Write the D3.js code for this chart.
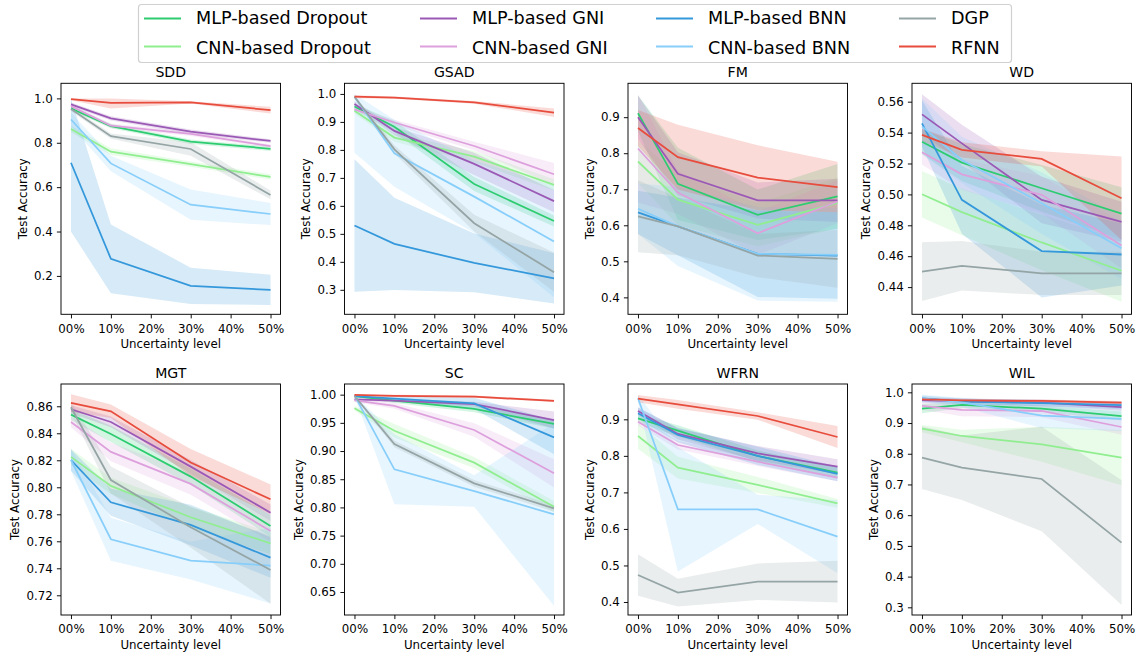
<!DOCTYPE html>
<html>
<head>
<meta charset="utf-8">
<script src="https://cdn.jsdelivr.net/npm/d3@7"></script>
<style>
  body { margin: 0; background: #fff; }
  svg { display: block; font-family: "DejaVu Sans", sans-serif; }
</style>
</head>
<body>
<script>
// series, in legend order (column by column)
const seriesNames = ['MLP-based Dropout', 'CNN-based Dropout', 'MLP-based GNI', 'CNN-based GNI',
    'MLP-based BNN', 'CNN-based BNN', 'DGP', 'RFNN'];
const seriesColors = ['#2ecc71', '#90ee90', '#9b59b6', '#dda0dd', '#3498db', '#87cefa', '#95a5a6', '#e74c3c'];

const levels = [0, 10, 30, 50];          // uncertainty level (%)
const xTicks = [0, 10, 20, 30, 40, 50];
const datasets = ['SDD', 'GSAD', 'FM', 'WD', 'MGT', 'SC', 'WFRN', 'WIL'];

// mean test accuracy / spread, one row per series
const sddMean = [
    [0.955, 0.875, 0.805, 0.773], [0.862, 0.760, 0.704, 0.646], [0.973, 0.910, 0.850, 0.808], [0.965, 0.877, 0.840, 0.785],
    [0.710, 0.277, 0.155, 0.137], [0.905, 0.707, 0.521, 0.479], [0.952, 0.830, 0.772, 0.565], [0.997, 0.980, 0.982, 0.947]];
const sddSd = [
    [0.010, 0.010, 0.010, 0.010], [0.015, 0.015, 0.012, 0.012], [0.008, 0.010, 0.010, 0.008], [0.010, 0.010, 0.010, 0.008],
    [0.310, 0.155, 0.082, 0.068], [0.030, 0.035, 0.068, 0.050], [0.010, 0.012, 0.030, 0.020], [0.005, 0.025, 0.005, 0.015]];

const gsadMean = [
    [0.955, 0.883, 0.678, 0.546], [0.940, 0.844, 0.776, 0.675], [0.964, 0.868, 0.750, 0.617], [0.945, 0.898, 0.814, 0.713],
    [0.530, 0.464, 0.396, 0.341], [0.990, 0.788, 0.633, 0.473], [0.990, 0.802, 0.538, 0.363], [0.990, 0.987, 0.970, 0.933]];
const gsadSd = [
    [0.010, 0.020, 0.025, 0.020], [0.010, 0.015, 0.020, 0.020], [0.010, 0.015, 0.040, 0.040], [0.010, 0.010, 0.015, 0.040],
    [0.237, 0.165, 0.105, 0.090], [0.200, 0.120, 0.130, 0.200], [0.005, 0.015, 0.030, 0.070], [0.005, 0.004, 0.005, 0.015]];

const fmMean = [
    [0.911, 0.715, 0.629, 0.680], [0.777, 0.671, 0.601, 0.662], [0.900, 0.743, 0.669, 0.669], [0.813, 0.691, 0.578, 0.666],
    [0.636, 0.597, 0.521, 0.516], [0.646, 0.597, 0.521, 0.518], [0.625, 0.597, 0.516, 0.507], [0.870, 0.789, 0.732, 0.706]];
const fmSd = [
    [0.05, 0.10, 0.07, 0.09], [0.06, 0.07, 0.06, 0.07], [0.06, 0.06, 0.05, 0.06], [0.15, 0.06, 0.06, 0.06],
    [0.06, 0.08, 0.12, 0.12], [0.07, 0.11, 0.13, 0.13], [0.10, 0.08, 0.06, 0.08], [0.05, 0.09, 0.09, 0.07]];

const wdMean = [
    [0.5341, 0.5206, 0.5040, 0.4876], [0.5001, 0.4885, 0.4689, 0.4506], [0.5518, 0.5330, 0.4964, 0.4822], [0.5273, 0.5130, 0.4997, 0.4670],
    [0.5460, 0.4965, 0.4633, 0.4611], [0.5440, 0.5223, 0.4943, 0.4652], [0.4500, 0.4538, 0.4489, 0.4489], [0.5385, 0.5288, 0.5230, 0.4975]];
const wdSd = [
    [0.008, 0.012, 0.015, 0.017], [0.015, 0.015, 0.018, 0.020], [0.013, 0.012, 0.015, 0.013], [0.008, 0.010, 0.012, 0.015],
    [0.015, 0.022, 0.030, 0.020], [0.018, 0.015, 0.020, 0.020], [0.019, 0.016, 0.014, 0.014], [0.004, 0.005, 0.005, 0.027]];

const mgtMean = [
    [0.8538, 0.8395, 0.8079, 0.7714], [0.8225, 0.8010, 0.7778, 0.7585], [0.8578, 0.8484, 0.8153, 0.7812], [0.8484, 0.8262, 0.8025, 0.7677],
    [0.8202, 0.7889, 0.7721, 0.7479], [0.8202, 0.7615, 0.7457, 0.7420], [0.8593, 0.8054, 0.7704, 0.7388], [0.8625, 0.8563, 0.8183, 0.7911]];
const mgtSd = [
    [0.004, 0.006, 0.006, 0.008], [0.006, 0.006, 0.008, 0.008], [0.003, 0.004, 0.005, 0.006], [0.004, 0.007, 0.008, 0.008],
    [0.008, 0.010, 0.015, 0.015], [0.008, 0.016, 0.014, 0.028], [0.004, 0.010, 0.015, 0.025], [0.0065, 0.005, 0.010, 0.011]];

const scMean = [
    [0.9976, 0.9894, 0.9746, 0.9480], [0.9758, 0.9360, 0.8794, 0.8013], [0.9917, 0.9894, 0.9834, 0.9550], [0.9900, 0.9800, 0.9373, 0.8605],
    [0.9976, 0.9930, 0.9846, 0.9243], [0.9988, 0.8676, 0.8290, 0.7877], [0.9976, 0.9125, 0.8427, 0.7984], [0.9994, 0.9980, 0.9965, 0.9888]];
const scSd = [
    [0.002, 0.004, 0.006, 0.008], [0.004, 0.012, 0.010, 0.010], [0.002, 0.003, 0.004, 0.015], [0.003, 0.005, 0.012, 0.025],
    [0.002, 0.004, 0.010, 0.030], [0.002, 0.062, 0.028, 0.162], [0.002, 0.006, 0.006, 0.006], [0.001, 0.002, 0.002, 0.002]];

const wfrnMean = [
    [0.9027, 0.8690, 0.7996, 0.7540], [0.8544, 0.7677, 0.7203, 0.6701], [0.9228, 0.8599, 0.8069, 0.7704], [0.8936, 0.8297, 0.7841, 0.7403],
    [0.9164, 0.8571, 0.8000, 0.7504], [0.9575, 0.6536, 0.6536, 0.5788], [0.4739, 0.4255, 0.4556, 0.4556], [0.9566, 0.9411, 0.9091, 0.8516]];
const wfrnSd = [
    [0.012, 0.015, 0.015, 0.015], [0.035, 0.030, 0.022, 0.012], [0.010, 0.015, 0.020, 0.020], [0.010, 0.012, 0.012, 0.010],
    [0.015, 0.020, 0.025, 0.020], [0.010, 0.170, 0.040, 0.100], [0.057, 0.038, 0.050, 0.057], [0.010, 0.012, 0.010, 0.030]];

const wilMean = [
    [0.9468, 0.9588, 0.9468, 0.9229], [0.8817, 0.8578, 0.8307, 0.7873], [0.9750, 0.9707, 0.9664, 0.9522], [0.9555, 0.9425, 0.9392, 0.8871],
    [0.9800, 0.9700, 0.9650, 0.9580], [0.9800, 0.9674, 0.9240, 0.9132], [0.7873, 0.7547, 0.7178, 0.5105], [0.9772, 0.9740, 0.9718, 0.9664]];
const wilSd = [
    [0.015, 0.010, 0.010, 0.015], [0.012, 0.020, 0.057, 0.090], [0.008, 0.008, 0.010, 0.012], [0.012, 0.020, 0.020, 0.025],
    [0.010, 0.010, 0.010, 0.012], [0.012, 0.015, 0.040, 0.040], [0.102, 0.105, 0.170, 0.203], [0.005, 0.005, 0.005, 0.005]];

// y axis ranges and tick labels per dataset
const yDomains = [[0.027, 1.068], [0.2125, 1.038], [0.353, 0.994], [0.4224, 0.5719],
    [0.7054, 0.8765], [0.6092, 1.0189], [0.3644, 0.9967], [0.275, 1.0271]];
const yTicks = [
    [0.2, 0.4, 0.6, 0.8, 1.0],
    [0.3, 0.4, 0.5, 0.6, 0.7, 0.8, 0.9, 1.0],
    [0.4, 0.5, 0.6, 0.7, 0.8, 0.9],
    [0.44, 0.46, 0.48, 0.50, 0.52, 0.54, 0.56],
    [0.72, 0.74, 0.76, 0.78, 0.80, 0.82, 0.84, 0.86],
    [0.65, 0.70, 0.75, 0.80, 0.85, 0.90, 0.95, 1.00],
    [0.4, 0.5, 0.6, 0.7, 0.8, 0.9],
    [0.3, 0.4, 0.5, 0.6, 0.7, 0.8, 0.9, 1.0]];
const yFormats = ['.1f', '.1f', '.1f', '.2f', '.2f', '.2f', '.1f', '.1f'];

const means = [sddMean, gsadMean, fmMean, wdMean, mgtMean, scMean, wfrnMean, wilMean];
const sds = [sddSd, gsadSd, fmSd, wdSd, mgtSd, scSd, wfrnSd, wilSd];

const WIDTH = 1138;
const HEIGHT = 656;
const LEFTS = [61, 344.5, 628, 912];
const TOPS = [83.3, 384];
const PW = 219.5;
const PH = 231;

const svg = d3.select('body').append('svg')
    .attr('width', WIDTH)
    .attr('height', HEIGHT);

datasets.forEach((name, i) => {
    const col = i % 4;
    const row = Math.floor(i / 4);
    const g = svg.append('g').attr('transform', `translate(${LEFTS[col]},${TOPS[row]})`);

    const x = d3.scaleLinear().domain([-2.5, 52.5]).range([0, PW]);
    const y = d3.scaleLinear().domain(yDomains[i]).range([PH, 0]);

    g.append('clipPath').attr('id', 'clip' + i)
        .append('rect').attr('width', PW).attr('height', PH);
    const plot = g.append('g').attr('clip-path', `url(#clip${i})`);

    const area = d3.area()
        .x((d, j) => x(levels[j]))
        .y0(d => y(d[0]))
        .y1(d => y(d[1]));
    const line = d3.line()
        .x((d, j) => x(levels[j]))
        .y(d => y(d));

    // bands under all lines, like matplotlib zorder
    means[i].forEach((m, s) => {
        const band = m.map((v, j) => [v - sds[i][s][j], Math.min(1, v + sds[i][s][j])]);
        plot.append('path')
            .attr('d', area(band))
            .attr('fill', seriesColors[s])
            .attr('fill-opacity', 0.2);
    });
    means[i].forEach((m, s) => {
        plot.append('path')
            .attr('d', line(m))
            .attr('fill', 'none')
            .attr('stroke', seriesColors[s])
            .attr('stroke-width', 1.76);
    });

    const yAxis = g.append('g')
        .call(d3.axisLeft(y).tickValues(yTicks[i]).tickFormat(d3.format(yFormats[i]))
            .tickSize(4.1).tickPadding(4.1));
    const xAxis = g.append('g')
        .attr('transform', `translate(0,${PH})`)
        .call(d3.axisBottom(x).tickValues(xTicks).tickFormat(d => d3.format('02d')(d) + '%')
            .tickSize(4.1).tickPadding(6));
    [yAxis, xAxis].forEach(a => {
        a.select('.domain').remove();
        a.selectAll('.tick line').attr('stroke', '#000').attr('stroke-width', 0.94);
        a.selectAll('.tick text').attr('fill', '#000')
            .style('font-size', '11.8px').style('font-family', '"DejaVu Sans", sans-serif');
    });

    g.append('rect')
        .attr('width', PW).attr('height', PH)
        .attr('fill', 'none')
        .attr('stroke', '#000')
        .attr('stroke-width', 0.94);

    g.append('text')
        .attr('x', PW / 2).attr('y', -6.5)
        .attr('text-anchor', 'middle')
        .style('font-size', '14.1px')
        .text(name);

    g.append('text')
        .attr('x', PW / 2).attr('y', PH + 34)
        .attr('text-anchor', 'middle')
        .style('font-size', '11.8px')
        .text('Uncertainty level');

    const bb = yAxis.node().getBBox();
    g.append('text')
        .attr('transform', `translate(${bb.x - 7.5},${PH / 2}) rotate(-90)`)
        .attr('text-anchor', 'middle')
        .style('font-size', '11.8px')
        .text('Test Accuracy');
});

// legend across the top
const legend = svg.append('g');
legend.append('rect')
    .attr('x', 138.5).attr('y', 4.5)
    .attr('width', 873).attr('height', 58)
    .attr('rx', 3)
    .attr('fill', '#fff')
    .attr('fill-opacity', 0.8)
    .attr('stroke', '#d0d0d0')
    .attr('stroke-width', 1.2);

const textX = [196, 472, 708, 951];
const handleY = [18.5, 46.5];
const textY = [23.5, 53.5];
seriesNames.forEach((n, k) => {
    const c = Math.floor(k / 2);
    const r = k % 2;
    legend.append('line')
        .attr('x1', textX[c] - 52).attr('x2', textX[c] - 15)
        .attr('y1', handleY[r]).attr('y2', handleY[r])
        .attr('stroke', seriesColors[k])
        .attr('stroke-width', 1.76);
    legend.append('text')
        .attr('x', textX[c]).attr('y', textY[r])
        .style('font-size', '17.6px')
        .text(n);
});
</script>
</body>
</html>
